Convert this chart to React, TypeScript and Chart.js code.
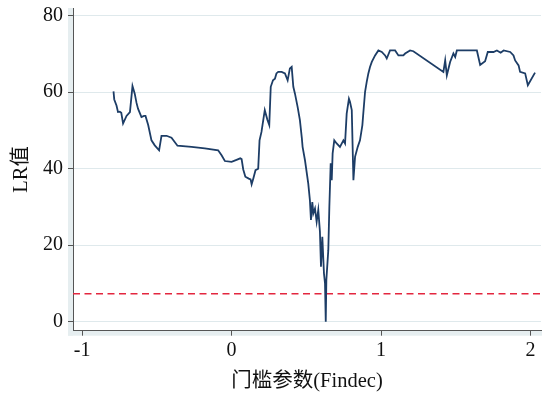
import React, { useEffect, useRef } from "react";
import { Chart, registerables } from "chart.js";

Chart.register(...registerables);

const xTicks = [-1, 0, 1, 2];
const yTicks = [0, 20, 40, 60, 80];
const criticalValue = 7.3;

const thresholdValues = [
  -0.79, -0.785, -0.77, -0.76, -0.748, -0.738, -0.726, -0.703, -0.68, -0.663,
  -0.648, -0.636, -0.626, -0.603, -0.586, -0.576, -0.558, -0.536, -0.514, -0.485,
  -0.469, -0.435, -0.402, -0.362, -0.268, -0.179, -0.09, -0.067, -0.045, 0.0,
  0.033, 0.058, 0.067, 0.078, 0.092, 0.115, 0.127, 0.134, 0.145, 0.16,
  0.178, 0.187, 0.2, 0.222, 0.24, 0.252, 0.262, 0.277, 0.29, 0.3,
  0.312, 0.335, 0.357, 0.375, 0.39, 0.402, 0.413, 0.424, 0.442, 0.457,
  0.47, 0.475, 0.491, 0.513, 0.524, 0.531, 0.54, 0.547, 0.558, 0.569,
  0.58, 0.591, 0.598, 0.607, 0.618, 0.625, 0.63, 0.634, 0.647, 0.654,
  0.663, 0.67, 0.676, 0.687, 0.703, 0.725, 0.748, 0.759, 0.77, 0.785,
  0.792, 0.804, 0.815, 0.826, 0.844, 0.859, 0.875, 0.881, 0.893, 0.904,
  0.915, 0.926, 0.938, 0.96, 0.982, 1.005, 1.027, 1.038, 1.06, 1.094,
  1.116, 1.149, 1.161, 1.194, 1.216, 1.417, 1.429, 1.44, 1.462, 1.484,
  1.496, 1.507, 1.641, 1.663, 1.696, 1.714, 1.752, 1.775, 1.8, 1.82,
  1.864, 1.886, 1.897, 1.92, 1.93, 1.964, 1.982, 2.03,
];

const lrValues = [
  60.2, 58.1, 56.5, 54.8, 54.9, 54.6, 51.8, 53.8, 54.8, 61.6,
  59.6, 57.2, 55.7, 53.5, 53.8, 53.8, 51.4, 47.4, 46.1, 44.8,
  48.6, 48.6, 48.1, 46.0, 45.7, 45.3, 44.8, 43.5, 42.0, 41.8,
  42.3, 42.7, 42.5, 39.8, 37.9, 37.4, 37.2, 35.9, 37.4, 39.6,
  40.0, 47.4, 49.6, 55.3, 52.7, 51.4, 61.4, 63.1, 63.5, 64.9,
  65.3, 65.3, 64.9, 63.1, 66.2, 66.6, 61.4, 59.6, 56.1, 52.7,
  48.0, 45.7, 42.2, 36.1, 31.7, 26.6, 31.3, 28.3, 29.6, 26.1,
  29.2, 23.5, 14.4, 22.2, 12.6, 10.0, 0.0, 10.9, 18.7, 30.0,
  41.4, 37.0, 44.0, 47.4, 46.6, 45.7, 47.4, 46.6, 54.4, 58.3,
  57.5, 55.3, 37.0, 43.1, 45.7, 47.4, 51.4, 54.4, 60.1, 62.7,
  64.9, 66.6, 67.9, 69.6, 70.9, 70.5, 69.6, 68.8, 70.9, 70.9,
  69.6, 69.6, 70.1, 70.9, 70.7, 65.3, 68.3, 64.4, 67.9, 70.1,
  69.2, 70.9, 70.9, 67.1, 68.1, 70.5, 70.5, 70.9, 70.3, 70.9,
  70.5, 69.6, 68.3, 67.0, 65.3, 64.9, 61.8, 65.1,
];

const X_MIN = -1.061;
const X_MAX = 2.07;
const Y_MIN = -2.35;
const Y_MAX = 82;

const FONT = "'Liberation Serif', 'Times New Roman', 'Noto Sans CJK SC', serif";

const bandPlugin = {
  id: "band",
  beforeDraw(chart: any) {
    const { ctx, chartArea } = chart;
    ctx.save();
    ctx.fillStyle = "#e6eef0";
    ctx.fillRect(chartArea.left - 5, chartArea.top, 5, chartArea.bottom - chartArea.top + 5);
    ctx.fillRect(chartArea.left - 5, chartArea.bottom, chart.width - chartArea.left + 5, 5);
    ctx.restore();
  },
};

export default function App() {
  const ref = useRef<HTMLCanvasElement | null>(null);
  useEffect(() => {
    document.body.style.margin = "0";
    if (!ref.current) return;
    const chart = new Chart(ref.current, {
      type: "line",
      data: {
        datasets: [
          {
            data: thresholdValues.map((x, i) => ({ x, y: lrValues[i] })),
            borderColor: "#1d3d66",
            borderWidth: 1.8,
            pointRadius: 0,
            tension: 0,
          },
          {
            data: [
              { x: X_MIN, y: criticalValue },
              { x: X_MAX, y: criticalValue },
            ],
            borderColor: "#e3263f",
            borderWidth: 1.6,
            borderDash: [7, 4.5],
            pointRadius: 0,
          },
        ],
      },
      options: {
        animation: false,
        responsive: false,
        layout: { padding: { top: 8, right: 1, left: 0, bottom: 0 } },
        plugins: { legend: { display: false }, tooltip: { enabled: false } },
        scales: {
          x: {
            type: "linear",
            min: X_MIN,
            max: X_MAX,
            afterBuildTicks: (s: any) => {
              s.ticks = xTicks.map((v) => ({ value: v }));
            },
            afterFit: (s: any) => {
              s.height = 64.3;
              s.paddingLeft = 0;
              s.paddingRight = 0;
            },
            grid: { drawOnChartArea: false, tickLength: 5, tickColor: "#555", color: "#555" },
            border: { display: true, color: "#555", width: 1 },
            ticks: { color: "#111", font: { family: FONT, size: 20 }, padding: 3, maxRotation: 0 },
            title: {
              display: true,
              text: "门槛参数(Findec)",
              color: "#111",
              font: { family: FONT, size: 20.5 },
              padding: { top: 0, bottom: 1.5 },
            },
          },
          y: {
            type: "linear",
            min: Y_MIN,
            max: Y_MAX,
            afterBuildTicks: (s: any) => {
              s.ticks = yTicks.map((v) => ({ value: v }));
            },
            afterFit: (s: any) => {
              s.width = 73;
              s.paddingTop = 0;
              s.paddingBottom = 0;
            },
            grid: { color: "#dfe9ec", lineWidth: 1, tickLength: 5, tickColor: "#555" },
            border: { display: true, color: "#555", width: 1 },
            ticks: { color: "#111", font: { family: FONT, size: 20 }, padding: 5 },
            title: {
              display: true,
              text: "LR值",
              color: "#111",
              font: { family: FONT, size: 20.5 },
              padding: { top: 9.5, bottom: 0 },
            },
          },
        },
      },
      plugins: [bandPlugin],
    } as any);
    return () => chart.destroy();
  }, []);
  return <canvas ref={ref} width={542} height={395} style={{ display: "block" }} />;
}
